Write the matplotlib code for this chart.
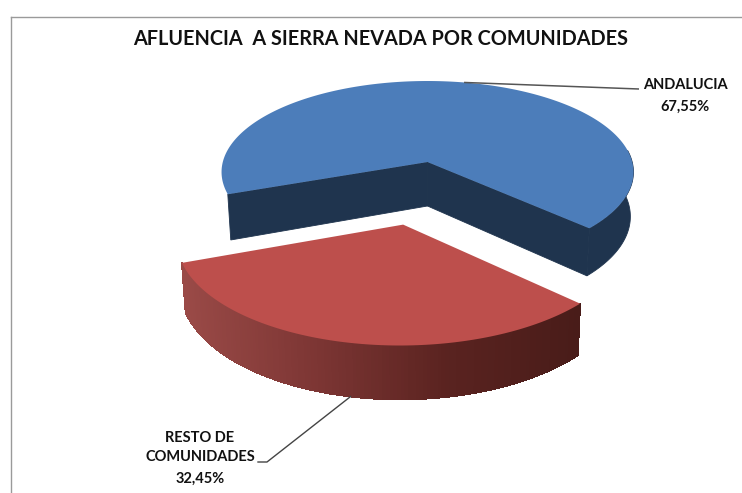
import numpy as np
import matplotlib
matplotlib.use('Agg')
import matplotlib.pyplot as plt
from matplotlib.colors import LinearSegmentedColormap

# datos del grafico
categories = ['ANDALUCIA', 'RESTO DE\nCOMUNIDADES']
shares = [67.55, 32.45]
title = 'AFLUENCIA  A SIERRA NEVADA POR COMUNIDADES'

# colores
blue_top = '#4c7dba'
blue_side = '#1f344e'
red_top = '#bd4f4c'
red_cmap = LinearSegmentedColormap.from_list('side', ['#9a4a47', '#7d3634', '#5a2320', '#491c19'])

plt.rcParams['font.family'] = ['Lato', 'DejaVu Sans']

# pixeles de la imagen como coordenadas
fig = plt.figure(figsize=(7.42, 4.93), dpi=100)
ax = fig.add_axes([0, 0, 1, 1])
ax.set_xlim(0, 742)
ax.set_ylim(493, 0)
ax.axis('off')

# marco gris, solo arriba e izquierda
frame = fig.add_axes([11 / 742, -0.01, 0.99, 1 - 17 / 493 + 0.01], facecolor='none')
frame.set_xticks([])
frame.set_yticks([])
frame.spines['right'].set_visible(False)
frame.spines['bottom'].set_visible(False)
for s in ['top', 'left']:
    frame.spines[s].set_color('#9a9a9a')
    frame.spines[s].set_linewidth(1.0)

# proyeccion en perspectiva del disco
CX, CY = 427.5, 162
SX, SY, K = 204.7, 89.9, 0.11
DEPTH = 44
BOTTOM = 0.985


def project(u, v, depth=False):
    w = 1 - K * v
    x = SX * u / w
    y = CY + SY * v / w
    if depth:
        x = x * BOTTOM
        y = y + DEPTH / w
    return CX + x, y


def arc(a0, a1, n=160):
    a = np.radians(np.linspace(a0, a1, n))
    return np.cos(a), np.sin(a)


start = 43.0
red_span = shares[1] * 3.6
blue_span = shares[0] * 3.6
red_mid = start + red_span / 2
blue_a0 = start + red_span
blue_a1 = blue_a0 + blue_span
blue_mid = blue_a0 + blue_span / 2

# sector azul: paredes y cara superior
u, v = arc(blue_a0, blue_a1, 300)
keep = np.linspace(blue_a0, blue_a1, 300) >= 352
tx, ty = project(u[keep], v[keep])
bx, by = project(u[keep], v[keep], True)
ax.fill(np.r_[tx, bx[::-1]], np.r_[ty, by[::-1]], facecolor=blue_side, edgecolor=blue_side, lw=0.6)
for i in [0, -1]:
    corners = [project(0, 0), project(u[i], v[i]), project(u[i], v[i], True), project(0, 0, True)]
    ax.fill([c[0] for c in corners], [c[1] for c in corners],
            facecolor=blue_side, edgecolor=blue_side, lw=0.6)
tx, ty = project(np.r_[0, u], np.r_[0, v])
ax.fill(tx, ty, color=blue_top, lw=0)

# sector rojo desplazado hacia delante, un poco mayor por estar mas cerca
EXPLODE = 0.66
RED_SCALE = 1.02
eu = EXPLODE * np.cos(np.radians(red_mid)) + 0.02
ev = EXPLODE * np.sin(np.radians(red_mid))
u, v = arc(start, start + red_span, 140)
u, v = u * RED_SCALE, v * RED_SCALE
tx, ty = project(u + eu, v + ev)
bx, by = project(u + eu, v + ev, True)
# color de la pared segun x, de izquierda a derecha
for i in range(len(u) - 1):
    t = (tx[i] - tx.min()) / (tx.max() - tx.min())
    c = red_cmap(t)
    ax.fill([tx[i], tx[i + 1], bx[i + 1], bx[i]], [ty[i], ty[i + 1], by[i + 1], by[i]],
            facecolor=c, edgecolor=c, lw=0.6, antialiased=False)
tx2, ty2 = project(np.r_[eu, u + eu], np.r_[ev, v + ev])
ax.fill(tx2, ty2, color=red_top, lw=0)

# lineas guia que salen del punto medio de cada sector
bm = np.radians(blue_mid)
x0, y0 = project(np.cos(bm), np.sin(bm))
ax.plot([x0, 639], [y0, 89], color='#555555', lw=1.1, solid_capstyle='butt')
rm = np.radians(red_mid)
x1, y1 = project(np.cos(rm) * RED_SCALE + eu, np.sin(rm) * RED_SCALE + ev, True)
ax.plot([x1, 267, 258], [y1, 462, 462], color='#444444', lw=1.0)

# textos
ax.text(381, 39, title, ha='center', va='center', fontsize=14.3, fontweight='bold', color='#111111')
fmt = [f'{s:.2f}'.replace('.', ',') + '%' for s in shares]
ax.text(685, 85, categories[0], ha='center', va='center', fontsize=10.5, fontweight='bold', color='#111111')
ax.text(685, 107, fmt[0], ha='center', va='center', fontsize=10.5, fontweight='bold', color='#111111')
name_a, name_b = categories[1].split('\n')
ax.text(200, 438, name_a, ha='center', va='center', fontsize=10.5, fontweight='bold', color='#111111')
ax.text(200, 457, name_b, ha='center', va='center', fontsize=10.5, fontweight='bold', color='#111111')
ax.text(200, 479, fmt[1], ha='center', va='center', fontsize=10.5, fontweight='bold', color='#111111')

fig.savefig('out.png', dpi=100)
